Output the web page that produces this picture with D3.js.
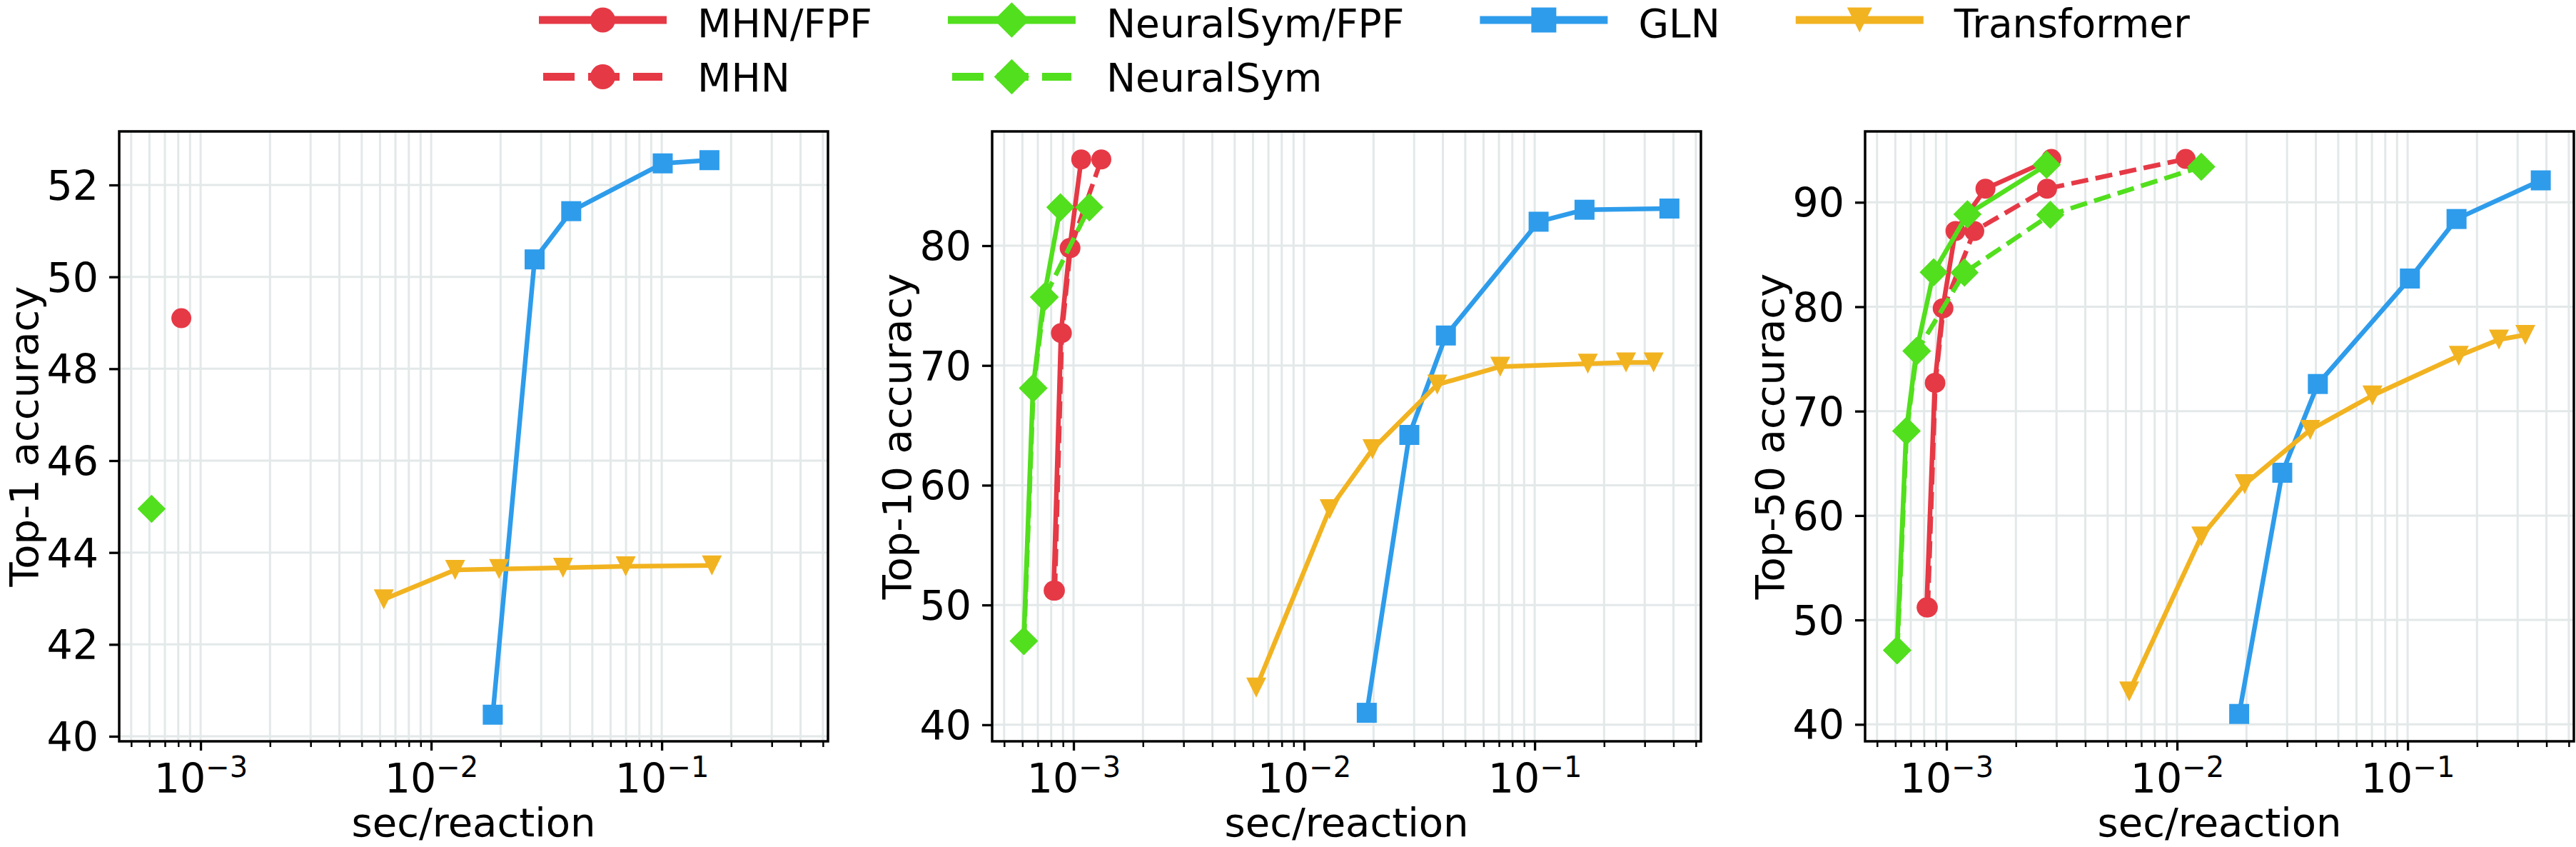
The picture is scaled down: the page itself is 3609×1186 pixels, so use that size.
<!DOCTYPE html>
<html>
<head>
<meta charset="utf-8">
<script src="https://cdn.jsdelivr.net/npm/d3@7"></script>
<style>
  html, body { margin: 0; padding: 0; background: #ffffff; }
  svg { display: block; }
  text { font-family: "DejaVu Sans", sans-serif; fill: #000; }
</style>
</head>
<body>
<svg id="chart" width="3609" height="1186"></svg>
<script>
// ---------------- DATA ----------------
const panelLabels = ["Top-1 accuracy", "Top-10 accuracy", "Top-50 accuracy"];
const xLabel = "sec/reaction";
const seriesNames = ["MHN/FPF", "MHN", "NeuralSym/FPF", "NeuralSym", "GLN", "Transformer"];

const xMajorTicks = [1e-3, 1e-2, 1e-1];
const top1YTicks = [40, 42, 44, 46, 48, 50, 52];
const top10YTicks = [40, 50, 60, 70, 80];
const top50YTicks = [40, 50, 60, 70, 80, 90];

// Top-1
const top1MhnFpfX = [8.25e-4];
const top1MhnFpfY = [49.1];
const top1MhnX = [];
const top1MhnY = [];
const top1NsFpfX = [6.13e-4];
const top1NsFpfY = [44.95];
const top1NsX = [];
const top1NsY = [];
const top1GlnX = [0.0185, 0.0281, 0.0405, 0.101, 0.161];
const top1GlnY = [40.47, 50.38, 51.43, 52.47, 52.54];
const top1TfX = [0.00623, 0.0127, 0.0197, 0.0373, 0.0698, 0.165];
const top1TfY = [42.98, 43.62, 43.64, 43.67, 43.70, 43.72];

// Top-10
const top10MhnFpfX = [8.2e-4, 8.82e-4, 9.62e-4, 1.08e-3];
const top10MhnFpfY = [51.2, 72.7, 79.8, 87.2];
const top10MhnX = [8.3e-4, 8.9e-4, 9.7e-4, 1.32e-3];
const top10MhnY = [51.2, 72.7, 79.8, 87.2];
const top10NsFpfX = [6.08e-4, 6.67e-4, 7.44e-4, 8.77e-4];
const top10NsFpfY = [47.0, 68.1, 75.7, 83.2];
const top10NsX = [6.1e-4, 6.7e-4, 7.5e-4, 1.17e-3];
const top10NsY = [47.0, 68.1, 75.7, 83.2];
const top10GlnX = [0.0187, 0.0286, 0.0412, 0.104, 0.1645, 0.384];
const top10GlnY = [41.0, 64.2, 72.5, 82.0, 83.0, 83.1];
const top10TfX = [0.0062, 0.0129, 0.0198, 0.0378, 0.0709, 0.170, 0.249, 0.328];
const top10TfY = [43.1, 58.0, 63.0, 68.4, 69.9, 70.15, 70.25, 70.25];

// Top-50
const top50MhnFpfX = [8.2e-4, 8.9e-4, 9.63e-4, 1.094e-3, 1.476e-3, 2.85e-3];
const top50MhnFpfY = [51.2, 72.7, 79.85, 87.25, 91.3, 94.15];
const top50MhnX = [8.3e-4, 8.95e-4, 9.7e-4, 1.32e-3, 2.73e-3, 1.09e-2];
const top50MhnY = [51.2, 72.7, 79.85, 87.25, 91.3, 94.15];
const top50NsFpfX = [6.1e-4, 6.69e-4, 7.41e-4, 8.8e-4, 1.233e-3, 2.72e-3];
const top50NsFpfY = [47.1, 68.1, 75.75, 83.3, 88.85, 93.6];
const top50NsX = [6.12e-4, 6.72e-4, 7.45e-4, 1.197e-3, 2.82e-3, 1.274e-2];
const top50NsY = [47.1, 68.1, 75.75, 83.27, 88.8, 93.4];
const top50GlnX = [0.0186, 0.0286, 0.0408, 0.1023, 0.163, 0.378];
const top50GlnY = [41.0, 64.1, 72.6, 82.7, 88.4, 92.1];
const top50TfX = [0.0062, 0.01274, 0.01966, 0.0378, 0.0704, 0.1667, 0.249, 0.324];
const top50TfY = [43.15, 58.0, 63.0, 68.2, 71.5, 75.3, 76.85, 77.3];

// ---------------- STYLE / LAYOUT ----------------
const colors = {red: "#e63946", green: "#52df1d", blue: "#2e9ceb", yellow: "#f2b321"};
const seriesStyle = [
  {color: colors.red, dashed: false, marker: "circle"},
  {color: colors.red, dashed: true, marker: "circle"},
  {color: colors.green, dashed: false, marker: "diamond"},
  {color: colors.green, dashed: true, marker: "diamond"},
  {color: colors.blue, dashed: false, marker: "square"},
  {color: colors.yellow, dashed: false, marker: "triangle"}
];

const panelData = [
  [[top1MhnFpfX, top1MhnFpfY], [top1MhnX, top1MhnY], [top1NsFpfX, top1NsFpfY], [top1NsX, top1NsY], [top1GlnX, top1GlnY], [top1TfX, top1TfY]],
  [[top10MhnFpfX, top10MhnFpfY], [top10MhnX, top10MhnY], [top10NsFpfX, top10NsFpfY], [top10NsX, top10NsY], [top10GlnX, top10GlnY], [top10TfX, top10TfY]],
  [[top50MhnFpfX, top50MhnFpfY], [top50MhnX, top50MhnY], [top50NsFpfX, top50NsFpfY], [top50NsX, top50NsY], [top50GlnX, top50GlnY], [top50TfX, top50TfY]]
];
const yTicksAll = [top1YTicks, top10YTicks, top50YTicks];
const yDomains = [[39.891, 53.166], [38.62, 89.54], [38.38, 96.79]];
const xDomain = [Math.pow(10, -3.353), Math.pow(10, -0.279)];

const panelLefts = [167, 1390, 2613];
const plotW = 993, plotTop = 184, plotBottom = 1038;
const lineW = 6.5, markerSize = 28;
const tickFont = 57, labelFont = 56, legendFont = 55;
const gridColor = "#e3e8e9";

const svg = d3.select("#chart");

function markerPath(type, s) {
  const h = s / 2;
  if (type === "square") return `M${-h},${-h}H${h}V${h}H${-h}Z`;
  if (type === "diamond") { const d = s * 0.7071; return `M0,${-d}L${d},0L0,${d}L${-d},0Z`; }
  if (type === "triangle") return `M${-h},${-h}L${h},${-h}L0,${h}Z`;
  return "";
}

function drawMarker(g, type, cx, cy, s, color) {
  if (type === "circle") {
    g.append("circle").attr("cx", cx).attr("cy", cy).attr("r", s / 2).attr("fill", color);
  } else {
    g.append("path").attr("d", markerPath(type, s)).attr("transform", `translate(${cx},${cy})`).attr("fill", color);
  }
}

// minor tick values
const minorTicks = [];
for (let e = -4; e <= 0; e++) {
  for (let m = 2; m <= 9; m++) {
    const v = m * Math.pow(10, e);
    if (v >= xDomain[0] && v <= xDomain[1]) minorTicks.push(v);
  }
}

panelData.forEach((series, pi) => {
  const left = panelLefts[pi];
  const x = d3.scaleLog().domain(xDomain).range([left, left + plotW]);
  const y = d3.scaleLinear().domain(yDomains[pi]).range([plotBottom, plotTop]);
  const g = svg.append("g");

  // grid
  const grid = g.append("g");
  grid.selectAll("line.vx").data(minorTicks.concat(xMajorTicks)).join("line")
    .attr("x1", d => x(d)).attr("x2", d => x(d))
    .attr("y1", plotTop).attr("y2", plotBottom)
    .attr("stroke", gridColor).attr("stroke-width", 3);
  grid.selectAll("line.hy").data(yTicksAll[pi]).join("line")
    .attr("x1", left).attr("x2", left + plotW)
    .attr("y1", d => y(d)).attr("y2", d => y(d))
    .attr("stroke", gridColor).attr("stroke-width", 3);

  // series
  const line = d3.line().x(d => x(d[0])).y(d => y(d[1]));
  series.forEach((s, si) => {
    const st = seriesStyle[si];
    const pts = d3.zip(s[0], s[1]);
    if (!pts.length) return;
    const sg = g.append("g");
    if (pts.length > 1) {
      sg.append("path").datum(pts).attr("d", line)
        .attr("fill", "none").attr("stroke", st.color)
        .attr("stroke-width", lineW)
        .attr("stroke-linejoin", "round")
        .attr("stroke-dasharray", st.dashed ? `${3.7 * lineW},${1.6 * lineW}` : null);
    }
    pts.forEach(p => drawMarker(sg, st.marker, x(p[0]), y(p[1]), markerSize, st.color));
  });

  // x axis (major)
  const xAxisMajor = d3.axisBottom(x).tickValues(xMajorTicks).tickSize(13).tickFormat(() => "");
  const gx = g.append("g").attr("transform", `translate(0,${plotBottom})`).call(xAxisMajor);
  gx.select(".domain").remove();
  gx.selectAll(".tick line").attr("stroke", "#000").attr("stroke-width", 3.3);
  gx.selectAll(".tick text").each(function(d) {
    const t = d3.select(this);
    t.text(null).attr("y", 72).attr("dy", 0).attr("font-size", tickFont)
      .attr("text-anchor", "middle").attr("fill", "#000");
    t.append("tspan").text("10");
    t.append("tspan").attr("font-size", 40).attr("dy", -22)
      .text("\u2212" + Math.round(-Math.log10(d)));
  });
  // x axis (minor)
  const xAxisMinor = d3.axisBottom(x).tickValues(minorTicks).tickSize(8).tickFormat(() => "");
  const gxm = g.append("g").attr("transform", `translate(0,${plotBottom})`).call(xAxisMinor);
  gxm.select(".domain").remove();
  gxm.selectAll(".tick line").attr("stroke", "#000").attr("stroke-width", 2.5);
  gxm.selectAll(".tick text").remove();

  // y axis
  const yAxis = d3.axisLeft(y).tickValues(yTicksAll[pi]).tickSize(14).tickPadding(15).tickFormat(d3.format("d"));
  const gy = g.append("g").attr("transform", `translate(${left},0)`).call(yAxis);
  gy.select(".domain").remove();
  gy.selectAll(".tick line").attr("stroke", "#000").attr("stroke-width", 3.3);
  gy.selectAll(".tick text").attr("font-size", tickFont).attr("dy", "0.36em")
    .attr("fill", "#000").attr("font-family", "DejaVu Sans");

  // frame
  g.append("rect").attr("x", left).attr("y", plotTop).attr("width", plotW)
    .attr("height", plotBottom - plotTop).attr("fill", "none")
    .attr("stroke", "#000").attr("stroke-width", 3.5);

  // labels
  g.append("text").attr("x", left + plotW / 2).attr("y", 1171)
    .attr("text-anchor", "middle").attr("font-size", labelFont).text(xLabel);
  g.append("text")
    .attr("transform", `translate(${left - 114},${(plotTop + plotBottom) / 2}) rotate(-90)`)
    .attr("text-anchor", "middle").attr("font-size", labelFont).text(panelLabels[pi]);
});

// ---------------- LEGEND ----------------
const legendCols = [[0, 1], [2, 3], [4], [5]];
const rowY = [28, 107.5];
const rowBase = [52, 128];
const handleLen = 179, textOff = 222, colGap = 106, legendLW = 11, legendMS = 35;
const lg = svg.append("g");
let cx0 = 755;
legendCols.forEach(col => {
  let maxW = 0;
  col.forEach((si, ri) => {
    const st = seriesStyle[si];
    const yy = rowY[ri];
    if (st.dashed) {
      lg.append("line").attr("x1", cx0 + 6).attr("x2", cx0 + handleLen - 6)
        .attr("y1", yy).attr("y2", yy).attr("stroke", st.color)
        .attr("stroke-width", legendLW).attr("stroke-dasharray", "44,19");
    } else {
      lg.append("line").attr("x1", cx0).attr("x2", cx0 + handleLen)
        .attr("y1", yy).attr("y2", yy).attr("stroke", st.color)
        .attr("stroke-width", legendLW);
    }
    drawMarker(lg, st.marker, cx0 + handleLen / 2, yy, legendMS, st.color);
    const t = lg.append("text").attr("x", cx0 + textOff).attr("y", rowBase[ri])
      .attr("font-size", legendFont).text(seriesNames[si]);
    maxW = Math.max(maxW, t.node().getComputedTextLength());
  });
  cx0 = cx0 + textOff + maxW + colGap;
});
</script>
</body>
</html>
